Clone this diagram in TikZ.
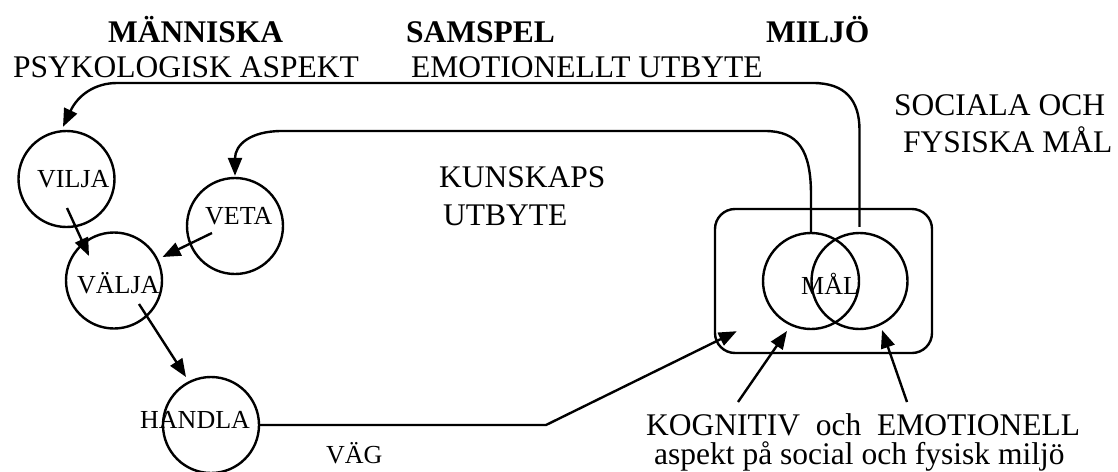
\documentclass[tikz,border=0pt]{standalone}
\usepackage{fontspec}
\setmainfont{Liberation Serif}
\usetikzlibrary{arrows.meta,calc}
\begin{document}
\begin{tikzpicture}[x=1pt,y=-1pt,line width=2.4pt,
  txt/.style={font=\fontsize{31.5}{36}\selectfont,inner sep=0pt,anchor=base west},
  head/.style={font=\fontsize{31.5}{36}\selectfont\bfseries,inner sep=0pt,anchor=base west},
  lbl/.style={font=\fontsize{26}{30}\selectfont,inner sep=0pt,anchor=base west},
  ring/.style={draw,circle,minimum size=96pt,inner sep=0pt},
  conn/.style={line width=2.4pt},
  arr/.style={conn,-{Triangle[length=18pt,width=14pt]}}]
\useasboundingbox (0,0) rectangle (1118,471);

% headings
\node[head] (hman) at (107,42) {MÄNNISKA};
\node[head] (hsam) at (405,42) {SAMSPEL};
\node[head] (hmil) at (765,42) {MILJÖ};
\node[txt] (psy) at (12,77) {PSYKOLOGISK ASPEKT};
\node[txt] (emob) at (410,77) {EMOTIONELLT UTBYTE};
\node[txt] (soc1) at (893,115) {SOCIALA OCH};
\node[txt] (soc2) at (902,152) {FYSISKA MÅL};
\node[txt] (kun1) at (438,187) {KUNSKAPS};
\node[txt] (kun2) at (442,225) {UTBYTE};

% person side
\node[ring] (vilja) at (66.5,179) {};
\node[ring] (veta) at (235,226) {};
\node[ring] (valja) at (114,280.5) {};
\node[ring] (handla) at (211,425) {};
\node[lbl] (tvilja) at (36,187) {VILJA};
\node[lbl] (tveta) at (204,224) {VETA};
\node[lbl] (tvalja) at (76,293) {VÄLJA};
\node[lbl] (thandla) at (139,428) {HANDLA};
\node[lbl] (tvag) at (325,463) {VÄG};

% environment side
\node[draw,rounded corners=20pt,minimum width=217pt,minimum height=144pt,inner sep=0pt] (box) at (823.5,281) {};
\node[ring] (vl) at (811,281) {};
\node[ring] (vr) at (859.5,281) {};
\node[lbl] (tmal) at (800,294) {MÅL};
\node[txt,text depth=0pt] (asp1) at (645,435) {KOGNITIV\ \ och\ \ EMOTIONELL};
\node[txt] (asp2) at (653,464) {aspekt på social och fysisk miljö};
\coordinate (kog) at (738,402);
\coordinate (emo) at (907,402);

% exchange loops
\draw[arr] ($(vr.north)+(0,-5)$) -- (859.5,130)
  .. controls (859.5,100) and (845,83) .. (813,83) -- (117,83)
  .. controls (95,83) and (78,95) .. ($(vilja.north)+(-3.5,-3)$);
\draw[arr] (vl.north) -- (811,195)
  .. controls (811,150) and (798,131) .. (765,131) -- (282,131)
  .. controls (250,131) and (235,145) .. ($(veta.north)+(0,-1)$);

% inner steps
\draw[arr] ($(vilja)+(0.5,29)$) -- ($(valja)+(-25,-24.5)$);
\draw[arr] ($(veta)+(-23,7)$) -- ($(valja)+(48.5,-23.5)$);
\draw[arr] ($(valja)+(25,23.5)$) -- ($(handla)+(-25,-48)$);
\draw[arr] (handla.east) -- (546,425) -- ($(box.south west)+(23,-23)$);
\draw[arr] (kog) -- ($(vl)+(-24,50)$);
\draw[arr] (emo) -- ($(vr)+(22.5,49)$);
\end{tikzpicture}
\end{document}
